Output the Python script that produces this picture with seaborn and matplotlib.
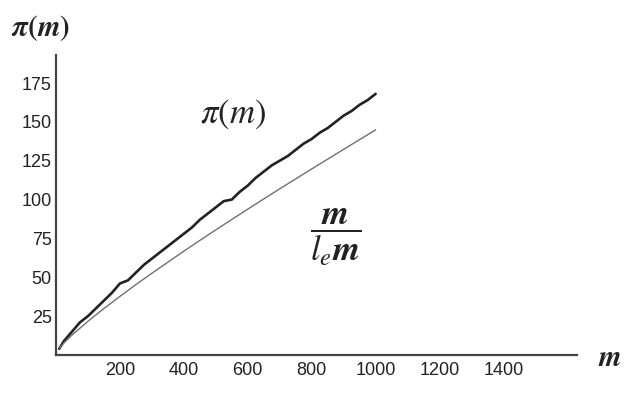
import matplotlib
matplotlib.use("Agg")
import matplotlib.pyplot as plt
import seaborn as sns
import pandas as pd

# prime counting pi(m), read at sample points
m_pi = [10, 25, 50, 75, 100, 125, 150, 175, 200, 225, 250, 275, 300, 325, 350, 375,
        400, 425, 450, 475, 500, 525, 550, 575, 600, 625, 650, 675, 700, 725, 750,
        775, 800, 825, 850, 875, 900, 925, 950, 975, 1000]
pi_vals = [4, 9, 15, 21, 25, 30, 35, 40, 46, 48, 53, 58, 62, 66, 70, 74,
           78, 82, 87, 91, 95, 99, 100, 105, 109, 114, 118, 122, 125, 128, 132,
           136, 139, 143, 146, 150, 154, 157, 161, 164, 168]
# m / ln m
m_ln = [10, 25, 50, 100, 150, 200, 250, 300, 350, 400, 450, 500, 550, 600, 650,
        700, 750, 800, 850, 900, 950, 1000]
ln_vals = [4.3, 7.8, 12.8, 21.7, 29.9, 37.7, 45.3, 52.6, 59.7, 66.8, 73.7, 80.5,
           87.2, 93.8, 100.4, 106.9, 113.3, 119.7, 126.0, 132.3, 138.6, 144.8]

x_ticks = [200, 400, 600, 800, 1000, 1200, 1400]
y_ticks = [25, 50, 75, 100, 125, 150, 175]

sns.set_theme(style="white")
plt.rcParams["font.family"] = ["Liberation Sans Narrow", "Liberation Sans", "DejaVu Sans"]
plt.rcParams["mathtext.fontset"] = "stix"

fig = plt.figure(figsize=(6.4, 4.07), dpi=100)
ax = fig.add_axes([0.0875, 0.1278, 0.814, 0.737])

df_pi = pd.DataFrame({"m": m_pi, "v": pi_vals})
df_ln = pd.DataFrame({"m": m_ln, "v": ln_vals})
sns.lineplot(data=df_pi, x="m", y="v", ax=ax, color="#222222", lw=1.9)
sns.lineplot(data=df_ln, x="m", y="v", ax=ax, color="#707070", lw=1.0)

ax.set_xlim(0, 1630)
ax.set_ylim(0, 193)
ax.set_xticks(x_ticks)
ax.set_yticks(y_ticks)
ax.set_xlabel("")
ax.set_ylabel("")
for s in ["top", "right"]:
    ax.spines[s].set_visible(False)
for s in ["left", "bottom"]:
    ax.spines[s].set_color("#444444")
    ax.spines[s].set_linewidth(1.6)
ax.tick_params(axis="both", direction="in", length=3, width=1.2, color="#444444",
               labelsize=13, labelcolor="#222222", pad=3)
ax.tick_params(axis="x", pad=5)

fig.text(11/640, 1-28/407, r"$\boldsymbol{\pi(m)}$", fontsize=21, color="#222222",
         ha="left", va="center")
ax.text(555, 155, r"$\pi(m)$", fontsize=25, color="#222222", ha="center", va="center")
ax.text(875, 76, r"$\dfrac{\boldsymbol{m}}{\boldsymbol{l_e m}}$", fontsize=25,
        color="#222222", ha="center", va="center")
fig.text(610/640, 1-358/407, r"$\boldsymbol{m}$", fontsize=21, color="#222222",
         ha="center", va="center")

fig.savefig("out.png", dpi=100)
